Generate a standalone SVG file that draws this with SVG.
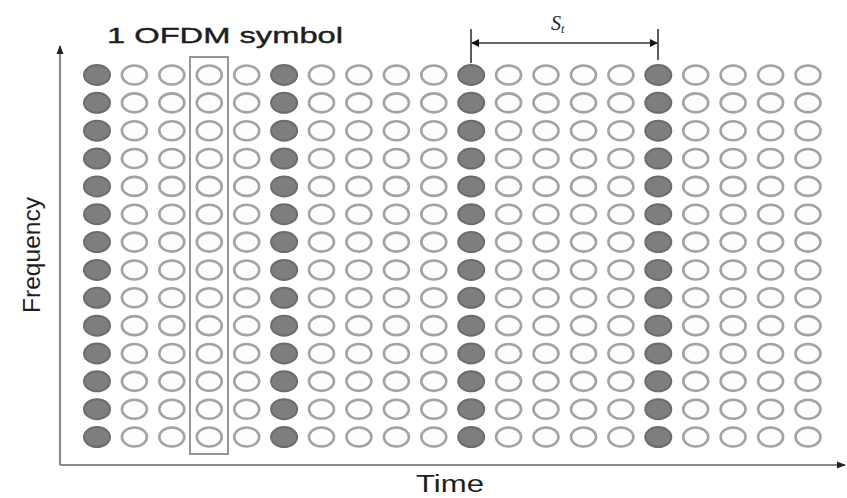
<svg xmlns="http://www.w3.org/2000/svg" xmlns:xlink="http://www.w3.org/1999/xlink" width="847" height="498" viewBox="0 0 847 498">
<style>
.d{fill:#fdfdfd;stroke:#a3a3a3;stroke-width:2.6}
.p{fill:#7e7e7e;stroke:#6c6c6c;stroke-width:2}
.ax{stroke:#8a8a8a;stroke-width:2.2;fill:none}
.lbl{font-family:"Liberation Sans",Arial,sans-serif;fill:#1e1e1e}
.dim{stroke:#333;stroke-width:1.6;fill:none}
</style>
<defs>
<marker id="ah" viewBox="0 0 10 10" refX="9" refY="5" markerWidth="8" markerHeight="8" orient="auto" markerUnits="userSpaceOnUse">
<path d="M0,0 L10,5 L0,10 z" fill="#111"/>
</marker>
<marker id="axh" viewBox="0 0 10 10" refX="9" refY="5" markerWidth="9" markerHeight="9" orient="auto" markerUnits="userSpaceOnUse">
<path d="M0,1 L10,5 L0,9 z" fill="#222"/>
</marker>
<g id="dcol">
<ellipse class="d" cx="0" cy="75" rx="12.5" ry="9.5"/>
<ellipse class="d" cx="0" cy="102.85" rx="12.5" ry="9.5"/>
<ellipse class="d" cx="0" cy="130.7" rx="12.5" ry="9.5"/>
<ellipse class="d" cx="0" cy="158.55" rx="12.5" ry="9.5"/>
<ellipse class="d" cx="0" cy="186.4" rx="12.5" ry="9.5"/>
<ellipse class="d" cx="0" cy="214.25" rx="12.5" ry="9.5"/>
<ellipse class="d" cx="0" cy="242.1" rx="12.5" ry="9.5"/>
<ellipse class="d" cx="0" cy="269.95" rx="12.5" ry="9.5"/>
<ellipse class="d" cx="0" cy="297.8" rx="12.5" ry="9.5"/>
<ellipse class="d" cx="0" cy="325.65" rx="12.5" ry="9.5"/>
<ellipse class="d" cx="0" cy="353.5" rx="12.5" ry="9.5"/>
<ellipse class="d" cx="0" cy="381.35" rx="12.5" ry="9.5"/>
<ellipse class="d" cx="0" cy="409.2" rx="12.5" ry="9.5"/>
<ellipse class="d" cx="0" cy="437.05" rx="12.5" ry="9.5"/>
</g>
<g id="pcol">
<ellipse class="p" cx="0" cy="75" rx="13" ry="10"/>
<ellipse class="p" cx="0" cy="102.85" rx="13" ry="10"/>
<ellipse class="p" cx="0" cy="130.7" rx="13" ry="10"/>
<ellipse class="p" cx="0" cy="158.55" rx="13" ry="10"/>
<ellipse class="p" cx="0" cy="186.4" rx="13" ry="10"/>
<ellipse class="p" cx="0" cy="214.25" rx="13" ry="10"/>
<ellipse class="p" cx="0" cy="242.1" rx="13" ry="10"/>
<ellipse class="p" cx="0" cy="269.95" rx="13" ry="10"/>
<ellipse class="p" cx="0" cy="297.8" rx="13" ry="10"/>
<ellipse class="p" cx="0" cy="325.65" rx="13" ry="10"/>
<ellipse class="p" cx="0" cy="353.5" rx="13" ry="10"/>
<ellipse class="p" cx="0" cy="381.35" rx="13" ry="10"/>
<ellipse class="p" cx="0" cy="409.2" rx="13" ry="10"/>
<ellipse class="p" cx="0" cy="437.05" rx="13" ry="10"/>
</g>
</defs>
<rect width="847" height="498" fill="#ffffff"/>
<g id="axes">
<line class="ax" x1="60" y1="465" x2="60" y2="46" marker-end="url(#axh)"/>
<line class="ax" x1="60" y1="465" x2="845" y2="465" marker-end="url(#axh)"/>
</g>
<g id="grid">
<use xlink:href="#pcol" href="#pcol" x="97"/>
<use xlink:href="#dcol" href="#dcol" x="134.4"/>
<use xlink:href="#dcol" href="#dcol" x="171.8"/>
<use xlink:href="#dcol" href="#dcol" x="209.3"/>
<use xlink:href="#dcol" href="#dcol" x="246.7"/>
<use xlink:href="#pcol" href="#pcol" x="284.1"/>
<use xlink:href="#dcol" href="#dcol" x="321.5"/>
<use xlink:href="#dcol" href="#dcol" x="358.9"/>
<use xlink:href="#dcol" href="#dcol" x="396.4"/>
<use xlink:href="#dcol" href="#dcol" x="433.8"/>
<use xlink:href="#pcol" href="#pcol" x="471.2"/>
<use xlink:href="#dcol" href="#dcol" x="508.6"/>
<use xlink:href="#dcol" href="#dcol" x="546"/>
<use xlink:href="#dcol" href="#dcol" x="583.5"/>
<use xlink:href="#dcol" href="#dcol" x="620.9"/>
<use xlink:href="#pcol" href="#pcol" x="658.3"/>
<use xlink:href="#dcol" href="#dcol" x="695.7"/>
<use xlink:href="#dcol" href="#dcol" x="733.1"/>
<use xlink:href="#dcol" href="#dcol" x="770.6"/>
<use xlink:href="#dcol" href="#dcol" x="808"/>
</g>
<g id="symbol-box">
<rect x="190" y="57" width="38" height="397" fill="none" stroke="#959595" stroke-width="2"/>
<text class="lbl" x="107" y="43" font-size="22" textLength="236" lengthAdjust="spacingAndGlyphs" stroke="#1e1e1e" stroke-width="0.4">1 OFDM symbol</text>
</g>
<g id="connectors">
<line class="dim" x1="471" y1="29" x2="471" y2="63"/>
<line class="dim" x1="658" y1="29" x2="658" y2="60"/>
<line class="dim" x1="564" y1="43" x2="472" y2="43" marker-end="url(#ah)"/>
<line class="dim" x1="564" y1="43" x2="657" y2="43" marker-end="url(#ah)"/>
</g>
<g id="st-label">
<text x="551" y="30" font-family="'Liberation Serif','Times New Roman',serif" font-style="italic" font-size="20" fill="#222">S<tspan font-size="12" dy="3">t</tspan></text>
</g>
<g id="freq-label">
<text class="lbl" transform="translate(40,255) rotate(-90)" text-anchor="middle" font-size="24" textLength="116" lengthAdjust="spacingAndGlyphs">Frequency</text>
</g>
<g id="time-label">
<text class="lbl" x="416" y="492" font-size="23" textLength="68" lengthAdjust="spacingAndGlyphs">Time</text>
</g>
</svg>
